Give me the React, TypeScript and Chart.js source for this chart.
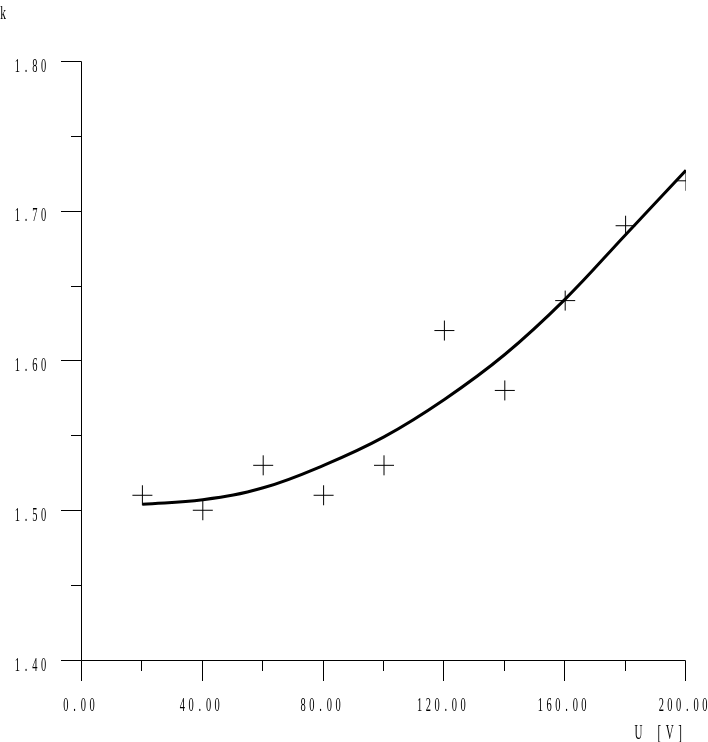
import React, { useEffect, useRef } from "react";
import { Chart, registerables } from "chart.js";

Chart.register(...registerables);

// Measured points
const uValues = [20, 40, 60, 80, 100, 120, 140, 160, 180, 200];
const kMeasured = [1.51, 1.5, 1.53, 1.51, 1.53, 1.62, 1.58, 1.64, 1.69, 1.72];
// Fitted curve
const kFit = [1.504, 1.507, 1.515, 1.53, 1.549, 1.574, 1.604, 1.641, 1.684, 1.727];

// Axis ticks
const xMajorTicks = [0, 40, 80, 120, 160, 200];
const xMinorTicks = [20, 60, 100, 140, 180];
const yMajorTicks = [1.4, 1.5, 1.6, 1.7, 1.8];
const yMinorTicks = [1.45, 1.55, 1.65, 1.75];
const xTitle = "U [V]";
const yTitle = "k";

const FONT = '"Liberation Serif", "DejaVu Serif", serif';

function drawSpaced(
  ctx: CanvasRenderingContext2D,
  text: string,
  firstCenter: number,
  baseline: number,
  pitch: number,
  size: number,
  sx: number
) {
  ctx.save();
  ctx.font = `${size}px ${FONT}`;
  ctx.fillStyle = "#000";
  ctx.textAlign = "center";
  ctx.textBaseline = "alphabetic";
  for (let i = 0; i < text.length; i++) {
    const ch = text[i];
    if (ch === " ") continue;
    const cx = firstCenter + i * pitch;
    ctx.save();
    ctx.translate(cx, baseline);
    ctx.scale(sx, 1);
    ctx.fillText(ch, 0, 0);
    ctx.restore();
  }
  ctx.restore();
}

const axesPlugin = {
  id: "plotAxes",
  afterDraw(chart: any) {
    const ctx: CanvasRenderingContext2D = chart.ctx;
    const xs = chart.scales.x;
    const ys = chart.scales.y;
    const vx = (v: number) => Math.round(xs.getPixelForValue(v)) - 0.5;
    const hy = (v: number) => Math.round(ys.getPixelForValue(v)) + 0.5;
    const x0 = vx(0);
    const y0 = hy(1.4);
    const yTop = hy(1.8);
    const xEnd = vx(200);
    ctx.save();
    ctx.strokeStyle = "#000";
    ctx.lineWidth = 1;
    ctx.beginPath();
    ctx.moveTo(x0, yTop);
    ctx.lineTo(x0, y0);
    ctx.moveTo(x0, y0);
    ctx.lineTo(xEnd, y0);
    xMajorTicks.forEach((v) => {
      const p = vx(v);
      ctx.moveTo(p, y0);
      ctx.lineTo(p, y0 + 20.5);
    });
    xMinorTicks.forEach((v) => {
      const p = vx(v);
      ctx.moveTo(p, y0);
      ctx.lineTo(p, y0 + 10.5);
    });
    yMajorTicks.forEach((v) => {
      const p = hy(v);
      ctx.moveTo(x0, p);
      ctx.lineTo(x0 - 20.5, p);
    });
    yMinorTicks.forEach((v) => {
      const p = hy(v);
      ctx.moveTo(x0, p);
      ctx.lineTo(x0 - 10.5, p);
    });
    ctx.stroke();
    ctx.restore();

    const pitch = 8.7;
    yMajorTicks.forEach((v) => {
      const s = v.toFixed(2);
      const p = ys.getPixelForValue(v);
      const lastCenter = xs.getPixelForValue(0) - 38.5;
      const first = lastCenter - (s.length - 1) * pitch;
      drawSpaced(ctx, s, first, p + 10.5, pitch, 19, 0.55);
    });
    xMajorTicks.forEach((v) => {
      const s = v.toFixed(2);
      const p = xs.getPixelForValue(v) - 3;
      const first = p - ((s.length - 1) * pitch) / 2;
      drawSpaced(ctx, s, first, 711, pitch, 19, 0.55);
    });
    drawSpaced(ctx, yTitle, 3, 19, 9, 19, 0.6);
    drawSpaced(ctx, xTitle, 638.5, 739, 10.4, 20, 0.55);
  },
};

export default function App() {
  const ref = useRef<HTMLCanvasElement | null>(null);
  useEffect(() => {
    document.body.style.margin = "0";
    const canvas = ref.current;
    if (!canvas) return;
    const chart = new Chart(canvas, {
      type: "scatter",
      data: {
        datasets: [
          {
            label: "fit",
            data: uValues.map((u, i) => ({ x: u, y: kFit[i] })),
            showLine: true,
            borderColor: "#000",
            borderWidth: 3,
            pointRadius: 0,
            tension: 0.4,
            fill: false,
          } as any,
          {
            label: "measured",
            data: uValues.map((u, i) => ({ x: u, y: kMeasured[i] })),
            showLine: false,
            pointStyle: "cross",
            pointRadius: 10,
            pointBorderWidth: 1,
            borderColor: "#000",
            backgroundColor: "#000",
          } as any,
        ],
      },
      options: {
        animation: false,
        responsive: false,
        maintainAspectRatio: false,
        events: [],
        layout: { padding: { left: 82, right: 22, top: 61, bottom: 82 } },
        plugins: { legend: { display: false }, tooltip: { enabled: false } },
        scales: {
          x: { type: "linear", min: 0, max: 200, display: false },
          y: { type: "linear", min: 1.4, max: 1.8, display: false },
        },
      },
      plugins: [axesPlugin],
    });
    return () => chart.destroy();
  }, []);
  return (
    <canvas
      ref={ref}
      width={708}
      height={742}
      style={{ display: "block", width: 708, height: 742, background: "#fff" }}
    />
  );
}
